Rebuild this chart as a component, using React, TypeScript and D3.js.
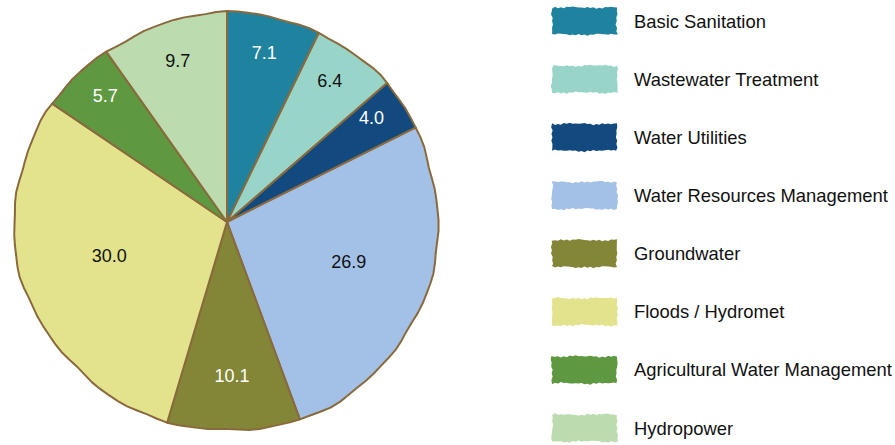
import React from "react";
import * as d3 from "d3";

const categories = [
  "Basic Sanitation",
  "Wastewater Treatment",
  "Water Utilities",
  "Water Resources Management",
  "Groundwater",
  "Floods / Hydromet",
  "Agricultural Water Management",
  "Hydropower",
];
const values = [7.1, 6.4, 4.0, 26.9, 10.1, 30.0, 5.7, 9.7];
const valueLabels = ["7.1", "6.4", "4.0", "26.9", "10.1", "30.0", "5.7", "9.7"];
const colors = ["#1f839f", "#98d5c8", "#124a7f", "#a3c1e6", "#838636", "#e3e38d", "#5e9941", "#bcdcaf"];
const labelColors = ["#ffffff", "#111111", "#ffffff", "#111111", "#ffffff", "#111111", "#ffffff", "#111111"];

const W = 895;
const H = 445;
const cx = 227;
const cy = 222;
const rx = 212;
const ry = 209;
const stroke = "#8a6a3c";
const font = "'Liberation Sans', Arial, Helvetica, sans-serif";

// deterministic hand-drawn wobble of the outline
const wobble = (a: number) =>
  1.1 * Math.sin(3 * a + 0.3) + 0.9 * Math.sin(7 * a + 1.7) + 0.6 * Math.sin(17 * a + 0.9) + 0.4 * Math.sin(31 * a + 2.1);

const pt = (a: number, k = 1) => {
  const w = k === 1 ? wobble(a) : 0;
  return [cx + Math.sin(a) * (rx * k + w), cy - Math.cos(a) * (ry * k + w)];
};

function slicePath(a0: number, a1: number) {
  const p = d3.path();
  p.moveTo(cx, cy);
  const n = Math.max(2, Math.ceil((a1 - a0) / (Math.PI / 60)));
  for (let i = 0; i <= n; i++) {
    const a = a0 + ((a1 - a0) * i) / n;
    const [x, y] = pt(a);
    p.lineTo(x, y);
  }
  p.closePath();
  return p.toString();
}

function roughRect(x: number, y: number, w: number, h: number, seed: number) {
  const p = d3.path();
  const n = 22;
  const j = (i: number, s: number) =>
    0.6 * Math.sin(i * 2.9 + seed * 1.7 + s) + 0.4 * Math.sin(i * 7.3 + seed + s * 2) + 0.5 * Math.sin(i * 0.4 + seed * 3 + s);
  p.moveTo(x + j(0, 0), y + j(0, 1));
  for (let i = 1; i <= n; i++) p.lineTo(x + (w * i) / n, y + j(i, 2));
  for (let i = 1; i <= 8; i++) p.lineTo(x + w + j(i, 3), y + (h * i) / 8);
  for (let i = n - 1; i >= 0; i--) p.lineTo(x + (w * i) / n, y + h + j(i, 4));
  for (let i = 7; i >= 1; i--) p.lineTo(x + j(i, 5), y + (h * i) / 8);
  p.closePath();
  return p.toString();
}

export default function App() {
  const pie = d3.pie<number>().sort(null).value((d) => d)(values);
  const total = d3.sum(values);
  const legendY = d3.scalePoint<string>().domain(categories).range([21, 428]);

  return (
    <svg width={W} height={H} style={{ position: "absolute", left: 0, top: 0, background: "#fff" }}>
      <g>
        {pie.map((s, i) => (
          <path
            key={i}
            d={slicePath(s.startAngle, s.endAngle)}
            fill={colors[i]}
            stroke={stroke}
            strokeWidth={2}
            strokeLinejoin="round"
          />
        ))}
        {pie.map((s, i) => {
          const frac = values[i] / total;
          const k = 0.86 - 0.9 * frac;
          const a = (s.startAngle + s.endAngle) / 2;
          const [x, y] = pt(a, k);
          return (
            <text
              key={"l" + i}
              x={x}
              y={y - 7}
              textAnchor="middle"
              dominantBaseline="central"
              fontFamily={font}
              fontSize={18}
              fill={labelColors[i]}
            >
              {valueLabels[i]}
            </text>
          );
        })}
      </g>
      <g>
        {categories.map((c, i) => {
          const y = legendY(c) as number;
          return (
            <g key={c}>
              <path d={roughRect(552, y - 13.5, 65, 27, i)} fill={colors[i]} />
              <text x={634} y={y} dominantBaseline="central" fontFamily={font} fontSize={18.4} fill="#111">
                {c}
              </text>
            </g>
          );
        })}
      </g>
    </svg>
  );
}
